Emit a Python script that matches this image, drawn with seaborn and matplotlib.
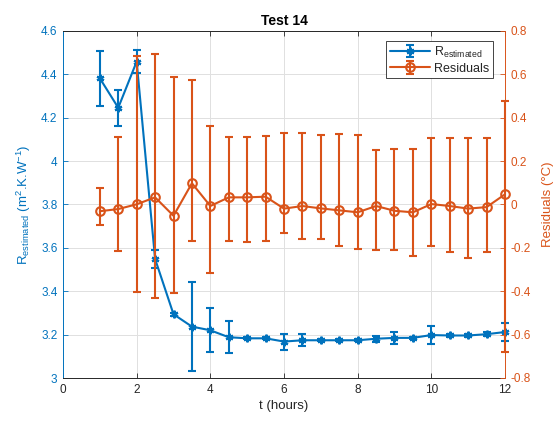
import matplotlib
matplotlib.use("Agg")
import matplotlib.pyplot as plt
import seaborn as sns
import numpy as np
from matplotlib.legend_handler import HandlerTuple

# ---- data ----
hours = [1, 1.5, 2, 2.5, 3, 3.5, 4, 4.5, 5, 5.5, 6, 6.5, 7, 7.5, 8, 8.5,
         9, 9.5, 10, 10.5, 11, 11.5, 12]
r_est = [4.382, 4.246, 4.459, 3.549, 3.294, 3.237, 3.220, 3.188, 3.183, 3.183,
         3.168, 3.174, 3.174, 3.174, 3.174, 3.181, 3.185, 3.185, 3.198, 3.196,
         3.196, 3.202, 3.212]
r_err = [0.126, 0.083, 0.054, 0.040, 0.008, 0.207, 0.102, 0.075, 0.005, 0.005,
         0.037, 0.028, 0.004, 0.004, 0.004, 0.014, 0.028, 0.005, 0.042, 0.005,
         0.005, 0.008, 0.043]
residuals = [-0.031, -0.021, 0.001, 0.033, -0.052, 0.098, -0.007, 0.033, 0.033,
             0.036, -0.019, -0.007, -0.018, -0.027, -0.036, -0.007, -0.029,
             -0.036, 0.002, -0.007, -0.019, -0.012, 0.047]
res_lower = [-0.095, -0.213, -0.403, -0.431, -0.408, -0.167, -0.317, -0.170,
             -0.173, -0.168, -0.133, -0.161, -0.161, -0.191, -0.204, -0.210,
             -0.210, -0.237, -0.191, -0.219, -0.248, -0.219, -0.680]
res_upper = [0.077, 0.310, 0.686, 0.694, 0.589, 0.575, 0.363, 0.313, 0.310,
             0.316, 0.331, 0.331, 0.322, 0.325, 0.322, 0.251, 0.254, 0.254,
             0.307, 0.307, 0.307, 0.307, 0.476]
x_ticks = [0, 2, 4, 6, 8, 10, 12]
left_ticks = [3, 3.2, 3.4, 3.6, 3.8, 4, 4.2, 4.4, 4.6]
right_ticks = [-0.8, -0.6, -0.4, -0.2, 0, 0.2, 0.4, 0.6, 0.8]

BLUE = (0, 0.447, 0.741)
ORANGE = (0.850, 0.325, 0.098)
DARK = (0.15, 0.15, 0.15)

sns.set_style("ticks")
plt.rcParams['font.family'] = ['Liberation Sans', 'DejaVu Sans']
plt.rcParams['mathtext.fontset'] = 'custom'
plt.rcParams['mathtext.rm'] = 'Liberation Sans'
plt.rcParams['mathtext.it'] = 'Liberation Sans:italic'
plt.rcParams['mathtext.bf'] = 'Liberation Sans:bold'

fig = plt.figure(figsize=(5.53, 4.23), dpi=100)
ax1 = fig.add_axes([63/553, 1-378/423, 442/553, 347/423])
ax2 = ax1.twinx()

# ---- R estimated on left axis ----
eb1 = ax1.errorbar(hours, r_est, yerr=r_err, fmt='none', ecolor=BLUE,
                   elinewidth=1.5, capsize=3.2, capthick=1.5)
sns.lineplot(x=hours, y=r_est, ax=ax1, color=BLUE, linewidth=1.5,
             marker=(6, 2, 0), markersize=5.5, markeredgecolor=BLUE,
             markeredgewidth=1.6)
l1 = ax1.lines[-1]

# ---- residuals on right axis ----
res = np.array(residuals)
yerr_res = np.vstack([res - np.array(res_lower), np.array(res_upper) - res])
eb2 = ax2.errorbar(hours, residuals, yerr=yerr_res, fmt='none', ecolor=ORANGE,
                   elinewidth=1.5, capsize=3.2, capthick=1.5)
sns.lineplot(x=hours, y=residuals, ax=ax2, color=ORANGE, linewidth=1.5,
             marker='o', markersize=6.2, markerfacecolor='none',
             markeredgecolor=ORANGE, markeredgewidth=1.5)
l2 = ax2.lines[-1]

for eb in (eb1, eb2):
    for art in eb.lines[1] + eb.lines[2]:
        art.set_clip_on(False)
l1.set_clip_on(False)
l2.set_clip_on(False)

ax1.set_xlim(0, 12)
ax1.set_ylim(3, 4.6)
ax2.set_ylim(-0.8, 0.8)
ax1.set_xticks(x_ticks)
ax1.set_xticklabels([str(v) for v in x_ticks])
ax1.set_yticks(left_ticks)
ax1.set_yticklabels([f"{v:g}" for v in left_ticks])
ax2.set_yticks(right_ticks)
ax2.set_yticklabels([f"{v:g}" for v in right_ticks])

ax1.grid(True, color=(0.88, 0.88, 0.88), linewidth=0.7)
ax1.set_axisbelow(True)

fs = 8.5
ax1.tick_params(axis='x', direction='in', length=3.5, width=0.6, colors=DARK,
                labelsize=fs, top=True, pad=4)
ax1.tick_params(axis='y', direction='in', length=3.5, width=0.6, colors=BLUE,
                labelsize=fs, pad=4)
ax2.tick_params(axis='y', direction='in', length=3.5, width=0.6, colors=ORANGE,
                labelsize=fs, pad=4)

for a in (ax1, ax2):
    for s in a.spines.values():
        s.set_linewidth(0.7)
ax1.spines['left'].set_color(BLUE)
ax1.spines['right'].set_visible(False)
ax1.spines['top'].set_color(DARK)
ax1.spines['bottom'].set_color(DARK)
ax2.spines['right'].set_color(ORANGE)
ax2.spines['left'].set_visible(False)
ax2.spines['top'].set_visible(False)
ax2.spines['bottom'].set_visible(False)

ax1.set_xlabel('t (hours)', fontsize=9.5, color=DARK, labelpad=3)
ax1.set_ylabel(r'R$_{\rm estimated}$ (m$^{2}$.K.W$^{-1}$)', fontsize=9.5,
               color=BLUE, labelpad=6)
ax2.set_ylabel('Residuals (°C)', fontsize=9.5, color=ORANGE, labelpad=8)
ax1.set_title('Test 14', fontsize=10, fontweight='bold', color='black', pad=4)

leg = ax2.legend(handles=[(l1, eb1), (l2, eb2)],
                 labels=[r'R$_{\rm estimated}$', 'Residuals'],
                 handler_map={tuple: HandlerTuple(ndivide=1)},
                 loc='upper right', bbox_to_anchor=(0.972, 0.972),
                 fontsize=9, frameon=True, fancybox=False, framealpha=1,
                 edgecolor=DARK, handlelength=3.2, borderpad=0.3,
                 labelspacing=0.25, handletextpad=0.3, borderaxespad=0)
leg.get_frame().set_linewidth(0.6)

fig.savefig('out.png', dpi=100)
